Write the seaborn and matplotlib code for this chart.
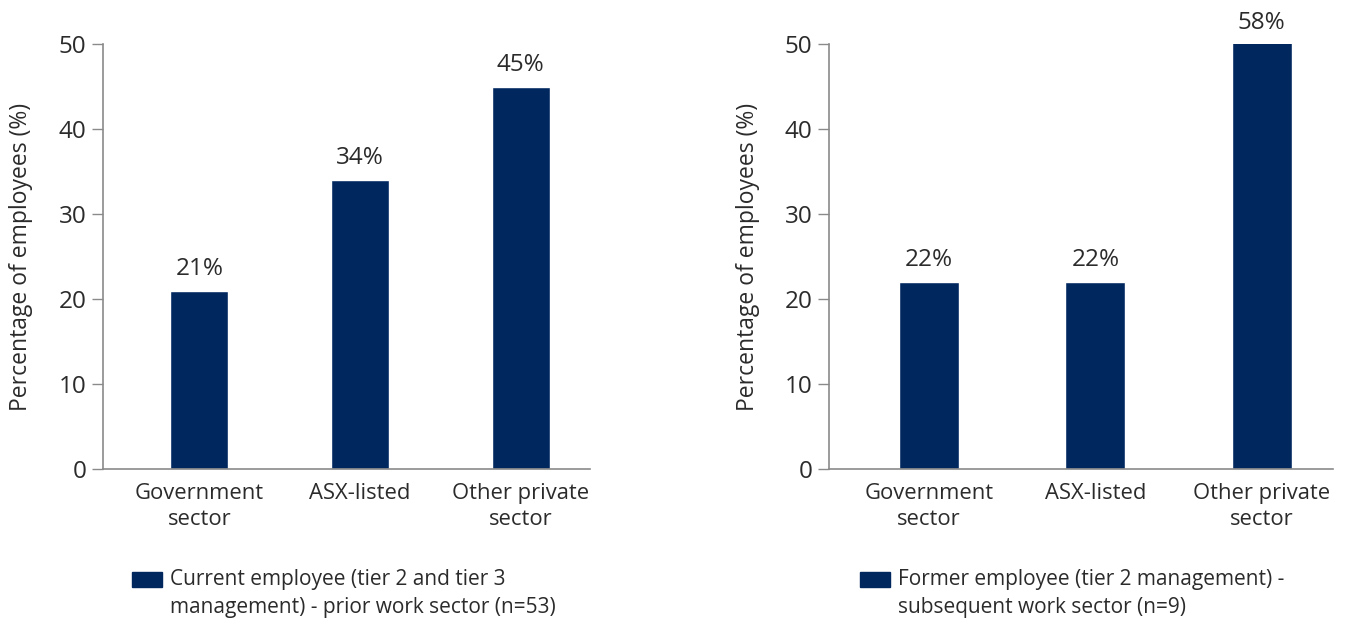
import matplotlib
matplotlib.use("Agg")
import matplotlib.pyplot as plt
import seaborn as sns
import pandas as pd
from matplotlib.patches import Rectangle

categories = ["Government\nsector", "ASX-listed", "Other private\nsector"]
current_values = [21, 34, 45]
former_values = [22, 22, 58]
legend_current = "Current employee (tier 2 and tier 3\nmanagement) - prior work sector (n=53)"
legend_former = "Former employee (tier 2 management) -\nsubsequent work sector (n=9)"
ylabel = "Percentage of employees (%)"
yticks = [0, 10, 20, 30, 40, 50]

NAVY = "#01275F"
TEXT = "#2b2b2b"
SPINE = "#8a8a8a"

sns.set_theme(style="white")
plt.rcParams['font.family'] = ['Open Sans', 'DejaVu Sans']

fig = plt.figure(figsize=(13.52, 6.23), dpi=100)
ax1 = fig.add_axes([0.0762, 0.247, 0.36, 0.682])
ax2 = fig.add_axes([0.6132, 0.247, 0.373, 0.682])

def panel(ax, values, legend_text, leg_x):
    df = pd.DataFrame({"sector": categories, "value": values})
    sns.barplot(data=df, x="sector", y="value", color=NAVY, width=0.36,
                saturation=1, ax=ax)
    ax.set_ylim(0, 50)
    ax.set_xlim(-0.6, 2.43)
    ax.set_yticks(yticks)
    ax.set_yticklabels([str(t) for t in yticks], fontsize=17.5, color=TEXT)
    ax.tick_params(axis="y", length=8, width=1, color=SPINE, pad=4, left=True)
    ax.tick_params(axis="x", length=0, pad=10, labelsize=15.8, colors=TEXT)
    for lab in ax.get_xticklabels():
        lab.set_color(TEXT)
        lab.set_linespacing(1.3)
    ax.set_xlabel("")
    ax.set_ylabel(ylabel, fontsize=16.5, color=TEXT, labelpad=18)
    for s in ["top", "right"]:
        ax.spines[s].set_visible(False)
    for s in ["left", "bottom"]:
        ax.spines[s].set_color(SPINE)
        ax.spines[s].set_linewidth(1.2)
    for i, v in enumerate(values):
        ax.annotate(f"{v}%", xy=(i, min(v, 50)), xytext=(0, 7),
                    textcoords="offset points", ha="center", va="bottom",
                    fontsize=17.5, color=TEXT, annotation_clip=False)
    # legend
    fig.patches.append(Rectangle((leg_x, 1 - 587 / 623), 30 / 1352, 15 / 623,
                                 transform=fig.transFigure, color=NAVY,
                                 figure=fig))
    fig.text(leg_x + 38 / 1352, 1 - 569 / 623, legend_text, fontsize=15,
             color=TEXT, va="top", ha="left", linespacing=1.42)

panel(ax1, current_values, legend_current, 132 / 1352)
panel(ax2, former_values, legend_former, 860 / 1352)

fig.savefig("out.png", dpi=100, facecolor="white")
